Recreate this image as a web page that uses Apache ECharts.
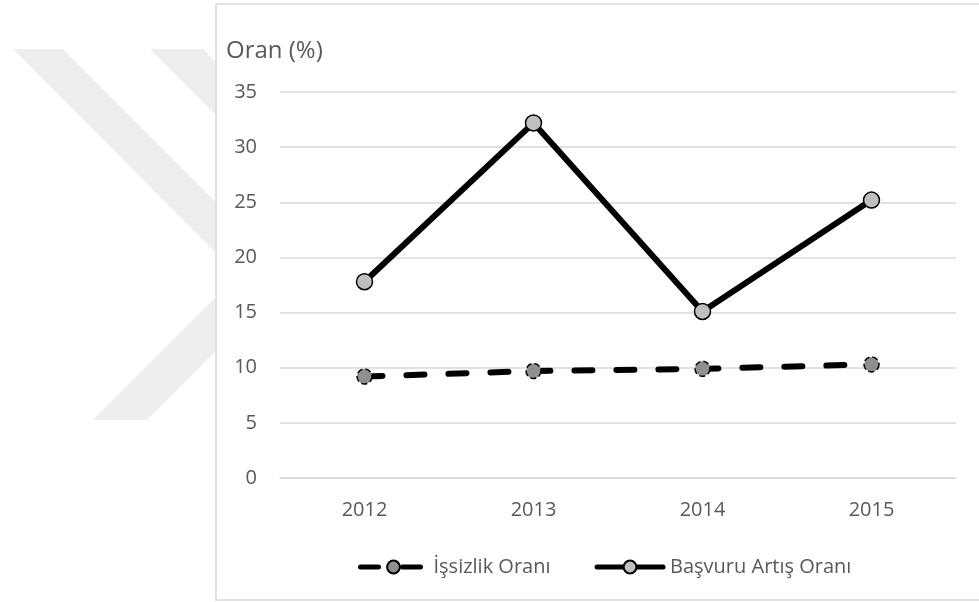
<!DOCTYPE html>
<html>
<head>
<meta charset="utf-8">
<script src="https://cdn.jsdelivr.net/npm/echarts@6/dist/echarts.min.js"></script>
<style>html,body{margin:0;padding:0;background:#fff}#c{width:979px;height:602px}</style>
</head>
<body>
<div id="c"></div>
<script>
var years = ['2012', '2013', '2014', '2015'];
var issizlik = [9.2, 9.7, 9.9, 10.3];
var basvuru = [17.8, 32.2, 15.1, 25.2];
var yTicks = { min: 0, max: 35, interval: 5 };
var seriesNames = ['İşsizlik Oranı', 'Başvuru Artış Oranı'];
var axisTitle = 'Oran (%)';

var chart = echarts.init(document.getElementById('c'));
var font = 'Open Sans';
chart.setOption({
  backgroundColor: '#ffffff',
  animation: false,
  textStyle: { fontFamily: font },
  graphic: [
    { type: 'polygon', z: -20, silent: true,
      shape: { points: [[13,49],[63,49],[290,276],[147,420],[93,420],[238,275]] },
      style: { fill: '#eeeeee' } },
    { type: 'polygon', z: -20, silent: true,
      shape: { points: [[150,49],[203,49],[330,176],[277,176]] },
      style: { fill: '#eeeeee' } },
    { type: 'rect', z: -10, silent: true,
      shape: { x: 216, y: 4, width: 800, height: 596 },
      style: { fill: '#ffffff', stroke: '#d9d9d9', lineWidth: 1.5 } }
  ],
  title: {
    text: axisTitle, left: 221, top: 34,
    textStyle: { fontFamily: font, fontSize: 24, fontWeight: 'normal', color: '#595959' }
  },
  grid: { left: 280, right: 23, top: 92, bottom: 124 },
  legend: {
    left: 353, top: 552,
    itemWidth: 66, itemHeight: 16, itemGap: 44,
    lineStyle: { width: 5, cap: 'round' },
    textStyle: { fontFamily: font, fontSize: 20, color: '#595959', padding: [0, 0, 0, 2] },
    data: seriesNames
  },
  xAxis: {
    type: 'category', data: years, boundaryGap: true,
    axisLine: { show: true, lineStyle: { color: '#d9d9d9', width: 1.5 } },
    axisTick: { show: false },
    axisLabel: { fontFamily: font, fontSize: 20, color: '#595959', margin: 22 }
  },
  yAxis: {
    type: 'value', min: yTicks.min, max: yTicks.max, interval: yTicks.interval,
    axisLine: { show: false }, axisTick: { show: false },
    splitLine: { lineStyle: { color: '#d9d9d9', width: 1.5 } },
    axisLabel: { fontFamily: font, fontSize: 20, color: '#595959', margin: 23 }
  },
  series: [
    {
      name: seriesNames[0], type: 'line', data: issizlik,
      symbol: 'circle', symbolSize: 15,
      lineStyle: { color: '#000', width: 6, type: [18, 24], cap: 'round' },
      itemStyle: { color: '#8f8f8f', borderColor: '#000', borderWidth: 1.5, borderType: 'dashed' }
    },
    {
      name: seriesNames[1], type: 'line', data: basvuru,
      symbol: 'circle', symbolSize: 16,
      lineStyle: { color: '#000', width: 6 },
      itemStyle: { color: '#bfbfbf', borderColor: '#000', borderWidth: 1.5 }
    }
  ]
});
</script>
</body>
</html>
